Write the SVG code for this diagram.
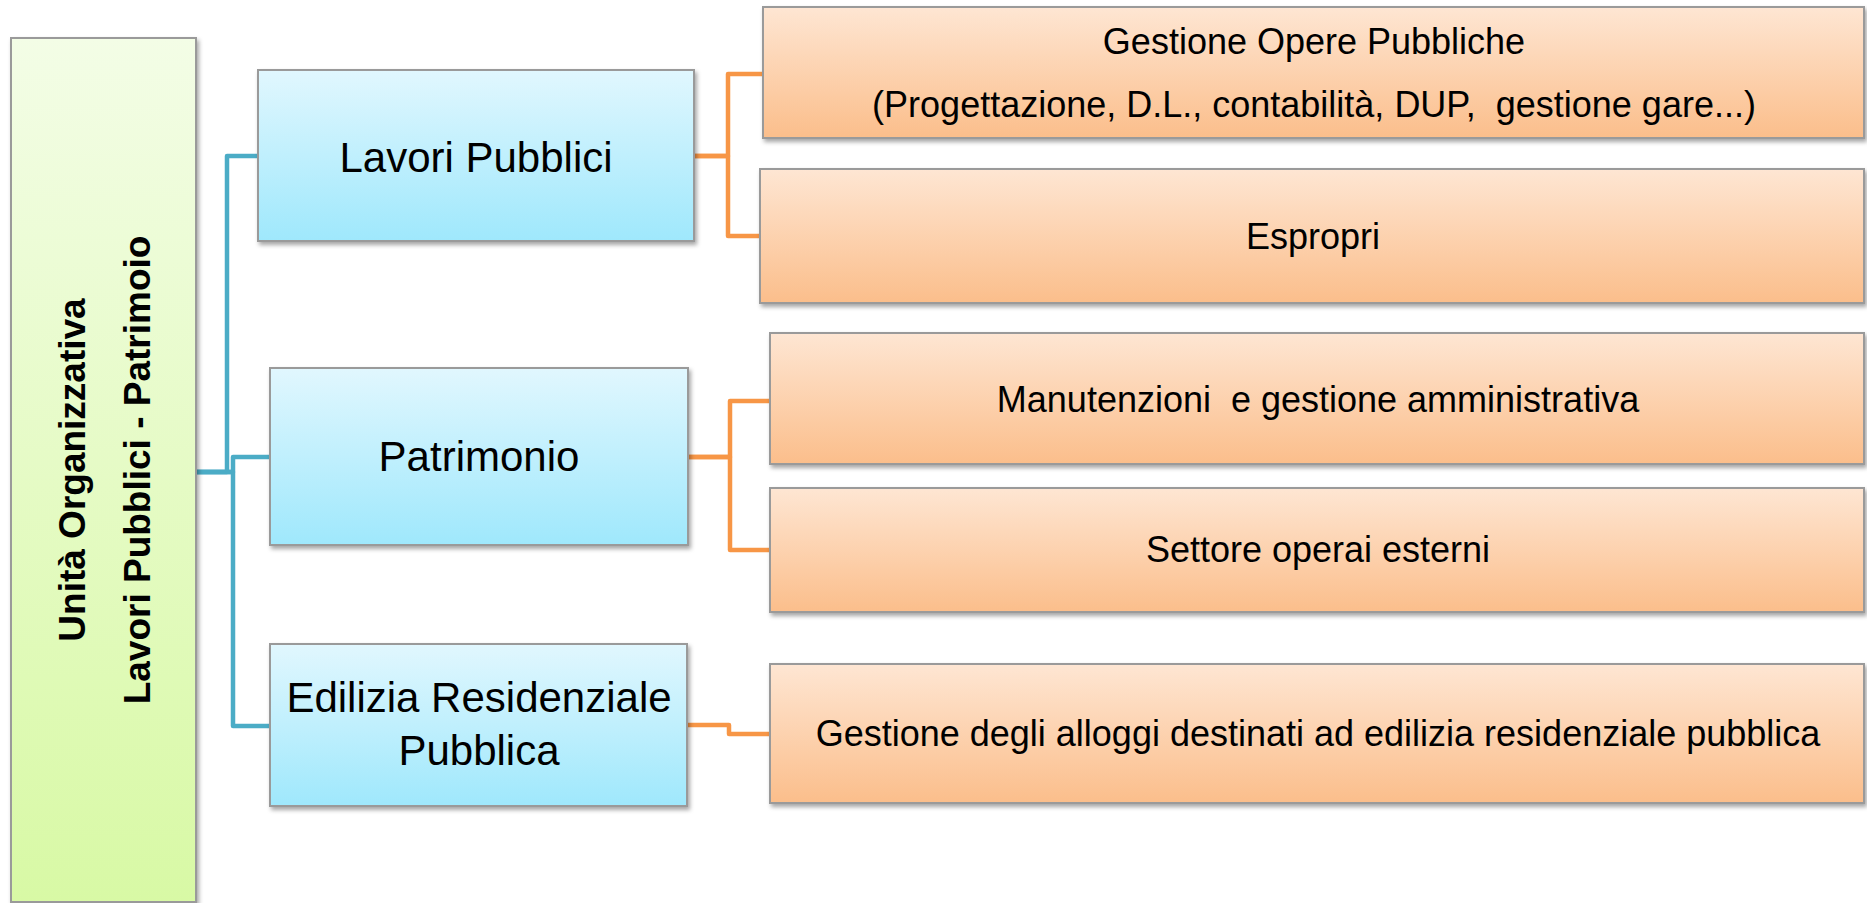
<svg xmlns="http://www.w3.org/2000/svg" width="1867" height="903" viewBox="0 0 1867 903">
<defs>
<linearGradient id="gGreen" x1="0" y1="0" x2="0" y2="1"><stop offset="0" stop-color="#f3fde6"/><stop offset="1" stop-color="#d8f9a5"/></linearGradient>
<linearGradient id="gBlue" x1="0" y1="0" x2="0" y2="1"><stop offset="0" stop-color="#e1f7fe"/><stop offset="1" stop-color="#9fe8fc"/></linearGradient>
<linearGradient id="gOrange" x1="0" y1="0" x2="0" y2="1"><stop offset="0" stop-color="#fee6d3"/><stop offset="1" stop-color="#fbbe8b"/></linearGradient>
<filter id="shadow" x="-5%" y="-10%" width="115%" height="130%"><feDropShadow dx="2" dy="3" stdDeviation="2" flood-color="#000" flood-opacity="0.35"/></filter>
</defs>
<style>
.box{stroke:#9a9a9a;stroke-width:2;filter:url(#shadow)}
.green{fill:url(#gGreen)}
.blue{fill:url(#gBlue)}
.orange{fill:url(#gOrange)}
.t{font-family:"Liberation Sans",Arial,sans-serif;fill:#000;text-anchor:middle}
.tb{font-size:42px}
.to{font-size:36px}
.tg{font-size:37px;font-weight:bold}
.cb{fill:none;stroke:#4bacc6;stroke-width:4.5;stroke-linejoin:round}
.co{fill:none;stroke:#f79646;stroke-width:4.5;stroke-linejoin:round}
</style>
<rect width="1867" height="903" fill="#fff"/>
<g id="connectors">
<path class="cb" d="M196,472 H227 V156 H258"/>
<path class="cb" d="M196,472 H233 V457 H270"/>
<path class="cb" d="M196,472 H233 V726 H270"/>
<path class="co" d="M694,156 H728 V74 H763"/>
<path class="co" d="M694,156 H728 V236 H760"/>
<path class="co" d="M688,457 H730 V401 H770"/>
<path class="co" d="M688,457 H730 V550 H770"/>
<path class="co" d="M687,725 H729 V734 H770"/>
</g>
<g id="root">
<rect class="box green" x="11" y="38" width="185" height="864"/>
<text class="t tg" transform="translate(85,470) rotate(-90)">Unità Organizzativa</text>
<text class="t tg" transform="translate(150,470) rotate(-90)">Lavori Pubblici - Patrimoio</text>
</g>
<g id="lavori">
<rect class="box blue" x="258" y="70" width="436" height="171"/>
<text class="t tb" x="476" y="172">Lavori Pubblici</text>
</g>
<g id="patrimonio">
<rect class="box blue" x="270" y="368" width="418" height="177"/>
<text class="t tb" x="479" y="471">Patrimonio</text>
</g>
<g id="edilizia">
<rect class="box blue" x="270" y="644" width="417" height="162"/>
<text class="t tb" x="479" y="712">Edilizia Residenziale</text>
<text class="t tb" x="479" y="765">Pubblica</text>
</g>
<g id="opere">
<rect class="box orange" x="763" y="7" width="1101" height="131"/>
<text class="t to" x="1314" y="54">Gestione Opere Pubbliche</text>
<text class="t to" x="1314" y="117" xml:space="preserve">(Progettazione, D.L., contabilità, DUP,  gestione gare...)</text>
</g>
<g id="espropri">
<rect class="box orange" x="760" y="169" width="1104" height="134"/>
<text class="t to" x="1313" y="249">Espropri</text>
</g>
<g id="manutenzioni">
<rect class="box orange" x="770" y="333" width="1094" height="131"/>
<text class="t to" x="1318" y="412" xml:space="preserve">Manutenzioni  e gestione amministrativa</text>
</g>
<g id="operai">
<rect class="box orange" x="770" y="488" width="1094" height="124"/>
<text class="t to" x="1318" y="562">Settore operai esterni</text>
</g>
<g id="alloggi">
<rect class="box orange" x="770" y="664" width="1094" height="139"/>
<text class="t to" x="1318" y="746">Gestione degli alloggi destinati ad edilizia residenziale pubblica</text>
</g>
</svg>
